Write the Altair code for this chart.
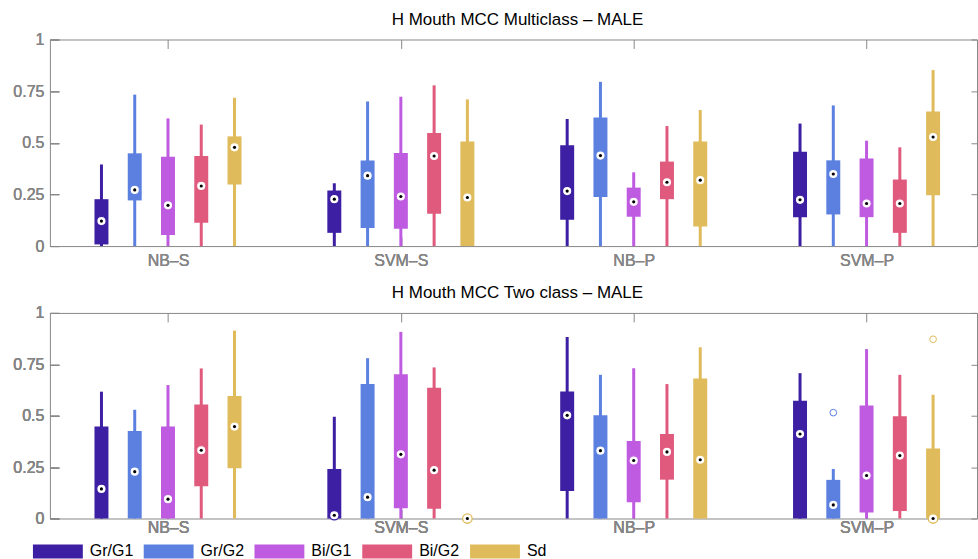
import altair as alt
import pandas as pd

methods = ["NB–S", "SVM–S", "NB–P", "SVM–P"]
series = ["Gr/G1", "Gr/G2", "Bi/G1", "Bi/G2", "Sd"]
colors = ["#3d1fa3", "#5b80e0", "#bf5be0", "#e05a7e", "#e0bb5b"]
y_ticks = [0, 0.25, 0.5, 0.75, 1]

# ---- Panel 1: Multiclass (method-major, series order as above)
mc_lo = [0, 0, 0, 0, 0,  0, 0, 0, 0, 0,  0, 0, 0, 0, 0,  0, 0, 0, 0, 0]
mc_q1 = [0.008, 0.221, 0.053, 0.113, 0.298,
         0.064, 0.087, 0.084, 0.156, 0.0,
         0.127, 0.238, 0.142, 0.227, 0.095,
         0.139, 0.153, 0.140, 0.064, 0.246]
mc_med = [0.121, 0.272, 0.197, 0.291, 0.478,
          0.227, 0.341, 0.240, 0.436, 0.235,
          0.266, 0.438, 0.214, 0.309, 0.319,
          0.224, 0.349, 0.206, 0.206, 0.528]
mc_q3 = [0.227, 0.449, 0.432, 0.436, 0.531,
         0.269, 0.414, 0.451, 0.547, 0.506,
         0.488, 0.622, 0.283, 0.409, 0.506,
         0.457, 0.415, 0.424, 0.322, 0.651]
mc_hi = [0.395, 0.733, 0.618, 0.588, 0.718,
         0.304, 0.700, 0.723, 0.778, 0.710,
         0.615, 0.795, 0.357, 0.581, 0.659,
         0.593, 0.681, 0.510, 0.478, 0.852]

# ---- Panel 2: Two class
tc_lo = [0, 0, 0, 0, 0,  0, 0, 0, 0, 0,  0, 0, 0, 0, 0,  0, 0, 0, 0, 0]
tc_q1 = [0.0, 0.0, 0.0, 0.157, 0.244,
         0.0, 0.0, 0.050, 0.047, 0.0,
         0.134, 0.0, 0.079, 0.189, 0.0,
         0.0, 0.0, 0.029, 0.036, 0.0]
tc_med = [0.144, 0.228, 0.094, 0.332, 0.447,
          0.016, 0.104, 0.312, 0.235, 0.0,
          0.502, 0.330, 0.282, 0.324, 0.286,
          0.411, 0.066, 0.209, 0.306, 0.0]
tc_q3 = [0.447, 0.426, 0.447, 0.555, 0.596,
         0.241, 0.654, 0.702, 0.636, 0.0,
         0.618, 0.502, 0.377, 0.411, 0.681,
         0.573, 0.188, 0.550, 0.497, 0.341]
tc_hi = [0.617, 0.529, 0.649, 0.730, 0.914,
         0.495, 0.780, 0.908, 0.735, 0.0,
         0.883, 0.699, 0.731, 0.654, 0.833,
         0.707, 0.241, 0.824, 0.699, 0.602]
tc_out_method = ["SVM–P", "SVM–P"]
tc_out_series = ["Gr/G2", "Sd"]
tc_out_value = [0.515, 0.872]

GAP = 7  # slots per method group
group_centers = [i * GAP + 2 for i in range(len(methods))]


def make_df(lo, q1, med, q3, hi):
    rows = []
    for gi, m in enumerate(methods):
        for si, s in enumerate(series):
            k = gi * len(series) + si
            rows.append(dict(method=m, series=s, pos=gi * GAP + si,
                             lo=lo[k], q1=q1[k], med=med[k], q3=q3[k], hi=hi[k]))
    return pd.DataFrame(rows)


def make_out(ms, ss, vs):
    rows = []
    for m, s, v in zip(ms, ss, vs):
        rows.append(dict(method=m, series=s, pos=methods.index(m) * GAP + series.index(s), val=v))
    return pd.DataFrame(rows)


GRAY = "#888888"
LABEL = "#858585"
xscale = alt.Scale(domain=[-1.4, 26.17], nice=False, zero=False)
yscale = alt.Scale(domain=[0, 1], nice=False, zero=False)
cscale = alt.Scale(domain=series, range=colors)

label_expr = "{" + ",".join(f"'{c}':'{m}'" for c, m in zip(group_centers, methods)) + "}[datum.value]"


def panel(df, out, title, label_pad, legend, height):
    x_bottom = alt.Axis(values=group_centers, labelExpr=label_expr, title=None, domain=False,
                        grid=False, ticks=True, tickSize=9, offset=-9, tickColor=GRAY,
                        labelFontSize=16, labelColor=LABEL, labelPadding=label_pad,
                        labelFontWeight="normal",
                        labelFlush=False, labelOverlap=False, orient="bottom")
    x_top = alt.Axis(values=group_centers, labels=False, title=None, domain=False, grid=False,
                     ticks=True, tickSize=9, offset=-9, tickColor=GRAY, orient="top")
    y_left = alt.Axis(values=y_ticks, format=".2~f", title=None, domain=False, grid=False,
                      ticks=True, tickSize=9, offset=-9, tickColor=GRAY, labelFontSize=16,
                      labelFontWeight="normal",
                      labelColor=LABEL, labelPadding=6, orient="left")
    y_right = alt.Axis(values=y_ticks, labels=False, title=None, domain=False, grid=False,
                       ticks=True, tickSize=6, offset=-6, tickColor=GRAY, orient="right")

    base = alt.Chart(df)
    whisk = base.mark_rule(strokeWidth=3).encode(
        x=alt.X("pos:Q", scale=xscale, axis=x_bottom),
        y=alt.Y("lo:Q", scale=yscale, axis=y_left),
        y2="hi:Q",
        color=alt.Color("series:N", scale=cscale, legend=legend),
    )
    box = base.mark_bar(size=14, opacity=1).encode(
        x=alt.X("pos:Q", scale=xscale, axis=x_top),
        y=alt.Y("q1:Q", scale=yscale, axis=y_right),
        y2="q3:Q",
        color=alt.Color("series:N", scale=cscale, legend=legend),
    )
    med_w = base.mark_point(shape="circle", filled=True, fill="white", size=90,
                            strokeWidth=1.3, opacity=1, fillOpacity=1).encode(
        x=alt.X("pos:Q", scale=xscale, axis=x_bottom),
        y=alt.Y("med:Q", scale=yscale, axis=y_left),
        stroke=alt.Stroke("series:N", scale=cscale, legend=None),
    )
    med_b = base.mark_circle(size=10, color="black", opacity=1).encode(
        x=alt.X("pos:Q", scale=xscale, axis=x_bottom),
        y=alt.Y("med:Q", scale=yscale, axis=y_left),
    )
    layers = [whisk, box, med_w, med_b]
    if out is not None and len(out):
        outl = alt.Chart(out).mark_point(shape="circle", filled=False, size=45, strokeWidth=1,
                                         opacity=1).encode(
            x=alt.X("pos:Q", scale=xscale, axis=x_bottom),
            y=alt.Y("val:Q", scale=yscale, axis=y_left),
            color=alt.Color("series:N", scale=cscale, legend=legend),
        )
        layers.append(outl)
    return alt.layer(*layers).properties(
        width=929, height=height,
        title=alt.TitleParams(title, fontSize=17, fontWeight="normal", color="black",
                              offset=3, dx=4),
    )


legend = alt.Legend(
    title=None, orient="bottom", direction="horizontal", offset=8,
    symbolType="M-3.57,-1H3.57V1H-3.57Z", symbolSize=196, symbolStrokeWidth=0,
    symbolOpacity=1, labelFontSize=16, labelColor="black",
    labelOffset=24, columnPadding=10, padding=0,
)

top = panel(make_df(mc_lo, mc_q1, mc_med, mc_q3, mc_hi), None,
            "H Mouth MCC Multiclass – MALE", 6, None, 207)
bottom = panel(make_df(tc_lo, tc_q1, tc_med, tc_q3, tc_hi),
               make_out(tc_out_method, tc_out_series, tc_out_value),
               "H Mouth MCC Two class – MALE", 1, legend, 206)

chart = alt.vconcat(top, bottom, spacing=14).resolve_scale(
    color="independent", stroke="independent"
).properties(
    padding={"left": 12, "top": 9, "right": 0, "bottom": 0}
).configure(font="Liberation Sans").configure_view(stroke=GRAY, strokeWidth=1)

chart.save("out.html", embed_options={"renderer": "svg", "actions": False})
